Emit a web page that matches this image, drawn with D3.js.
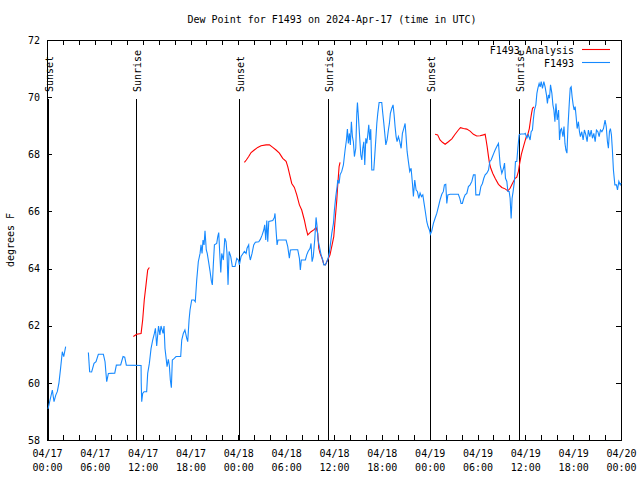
<!DOCTYPE html>
<html><head><meta charset="utf-8">
<script src="https://cdn.jsdelivr.net/npm/d3@7"></script>
<style>body{margin:0;background:#fff}svg{display:block}text{font-family:"DejaVu Sans Mono",monospace;font-size:10px;fill:#000}</style>
</head><body>
<svg id="c" width="640" height="480"></svg>
<script>
const title = "Dew Point for F1493 on 2024-Apr-17 (time in UTC)";
const yLabel = "degrees F";
const yTicks = [58, 60, 62, 64, 66, 68, 70, 72];
const xTickHours = [0, 6, 12, 18, 24, 30, 36, 42, 48, 54, 60, 66, 72];
const xTickDates = ["04/17","04/17","04/17","04/17","04/18","04/18","04/18","04/18","04/19","04/19","04/19","04/19","04/20"];
const xTickTimes = ["00:00","06:00","12:00","18:00","00:00","06:00","12:00","18:00","00:00","06:00","12:00","18:00","00:00"];
const sunHours = [0.12, 11.2, 24.1, 35.2, 48.1, 59.25];
const sunLabels = ["Sunset","Sunrise","Sunset","Sunrise","Sunset","Sunrise"];
const seriesNames = ["F1493 Analysis", "F1493"];

// Observed (blue) series: hours since 2024-04-17 00:00 UTC, value (null = gap)
const obsHours = [0.13,0.67,0.88,1.1,1.3,1.5,1.7,1.92,2.1,2.34,3.5,
5.19,5.35,5.6,5.9,6.15,6.44,7.07,7.28,7.4,7.49,7.7,8.5,8.7,9.24,9.54,9.75,9.95,11.8,11.82,11.88,12.0,12.17,12.5,12.63,12.84,
13.05,13.26,13.47,13.6,13.76,13.9,13.99,14.16,14.3,14.56,14.68,14.8,14.93,15.06,15.22,15.35,15.47,15.6,15.72,15.93,16.19,16.77,
16.9,17.1,17.3,17.53,17.65,17.82,17.94,18.15,18.44,18.6,18.78,18.98,19.2,19.32,19.45,19.57,19.7,19.82,19.98,20.1,20.29,20.45,
20.62,20.74,20.87,21.0,21.29,21.42,21.54,21.67,21.8,21.92,22.12,22.3,22.46,22.58,22.71,22.84,23.05,23.25,23.59,23.8,24.0,24.13,
24.34,24.55,24.76,24.97,25.09,25.3,25.38,25.5,25.72,25.93,26.14,26.56,26.76,26.98,27.19,27.31,27.44,27.57,27.69,27.82,28.32,
28.52,28.6,28.73,28.86,28.98,29.99,30.2,30.4,30.53,30.83,31.45,31.66,31.78,31.9,32.41,32.58,32.75,33.0,33.12,33.25,33.4,33.58,
33.75,33.88,34.0,34.17,34.38,34.59,34.72,34.92,35.09,35.26,35.42,35.72,35.93,36.05,36.22,36.39,36.47,36.64,36.76,36.97,37.18,
37.39,37.56,37.68,37.8,37.93,38.05,38.18,38.31,38.43,38.56,38.73,38.86,38.94,39.06,39.24,39.36,39.49,39.61,39.74,39.86,39.99,
40.11,40.24,40.36,40.49,40.61,40.74,40.99,41.12,41.24,41.37,41.49,41.66,41.99,42.12,42.25,42.37,42.5,42.66,42.82,42.95,43.07,
43.25,43.41,43.54,43.66,43.79,43.91,44.08,44.25,44.42,44.58,44.75,44.92,45.04,45.17,45.33,45.5,45.67,45.84,45.96,46.13,46.3,
46.46,46.64,46.8,46.97,47.14,47.3,47.46,47.64,47.8,47.97,48.09,48.25,48.47,48.68,48.89,49.1,49.3,49.52,49.72,49.85,50.02,50.15,
50.28,50.56,51.6,51.78,51.94,52.1,52.28,52.45,52.66,52.86,53.07,53.29,53.49,53.7,53.79,54.24,54.42,54.62,54.79,54.96,55.17,
55.38,55.55,55.71,55.88,56.05,56.21,56.42,56.63,56.84,57.05,57.26,57.39,57.51,57.68,57.81,57.97,58.09,58.22,58.34,58.47,58.63,
58.76,58.93,59.06,59.22,59.43,59.88,60.0,60.19,60.38,60.6,60.73,60.89,61.0,61.14,61.32,61.45,61.57,61.73,61.86,61.99,62.15,
62.32,62.48,62.65,62.77,62.9,63.03,63.16,63.33,63.46,63.58,63.71,63.84,64.0,64.17,64.29,64.42,64.54,64.72,64.85,64.97,65.09,
65.22,65.35,65.51,65.63,65.75,65.87,66.0,66.12,66.25,66.37,66.5,66.66,66.79,66.91,67.08,67.25,67.41,67.59,67.75,67.91,68.09,
68.26,68.42,68.59,68.76,68.92,69.1,69.26,69.42,69.6,69.8,70.0,70.15,70.3,70.42,70.55,70.67,70.8,70.92,71.05,71.23,71.43,71.56,
71.73,71.9,72.0];
const obsValues = [59.09,59.75,59.34,59.57,59.7,60.0,60.5,61.09,60.92,61.27,null,
61.06,60.39,60.38,60.68,60.74,61.0,61.0,60.74,60.33,60.04,60.33,60.34,60.62,60.63,60.92,60.9,60.62,60.61,60.0,59.34,59.63,59.69,59.69,60.33,60.68,
61.2,61.5,61.73,61.91,61.29,61.73,61.99,61.68,61.99,61.73,61.99,61.2,60.89,60.57,60.82,60.6,60.1,59.83,60.8,60.85,60.92,60.92,
61.5,61.73,61.85,61.56,61.44,62.2,62.55,62.9,62.9,62.84,63.6,64.24,64.53,64.83,64.53,65.0,64.83,65.32,64.65,64.53,64.2,63.91,
63.56,63.43,64.18,64.83,64.88,65.12,65.26,64.53,63.86,64.53,64.3,65.06,64.94,64.53,63.43,64.6,64.42,64.07,64.07,64.36,64.3,64.13,
64.42,64.51,64.6,64.53,64.71,64.83,64.48,64.3,64.53,64.83,64.92,64.94,65.02,65.17,65.35,65.53,65.0,65.68,64.94,65.65,65.68,
65.79,65.93,65.35,64.83,65.0,65.0,64.77,64.36,64.65,64.66,64.66,64.36,63.95,64.3,64.3,64.48,64.6,64.71,64.88,64.24,64.42,65.0,
65.79,65.47,65.0,64.77,64.48,64.3,64.13,64.13,64.24,64.36,64.56,65.23,65.58,66.05,66.52,66.87,67.1,66.98,67.28,67.4,67.63,
68.15,68.5,68.88,68.38,68.73,68.33,69.14,68.62,68.44,67.92,68.21,69.43,69.81,69.32,68.5,67.98,67.8,68.21,68.44,67.63,68.56,
68.38,68.68,69.03,68.5,68.88,67.45,67.45,67.98,68.5,69.08,69.43,69.81,69.81,69.43,69.08,68.73,68.33,68.5,68.85,69.08,69.43,
69.61,69.73,69.38,68.97,68.62,68.44,68.62,68.44,68.21,68.73,68.9,69.08,68.62,68.1,67.75,67.4,67.51,66.98,66.52,67.1,66.75,
66.7,66.46,66.64,66.52,66.58,66.28,65.99,65.64,65.47,65.35,65.2,65.3,65.58,65.76,65.93,66.17,66.4,66.6,66.7,66.93,66.95,66.28,
66.58,66.6,66.6,66.46,66.28,66.28,66.46,66.58,66.63,66.87,66.93,67.05,67.28,67.28,66.58,66.58,66.87,66.98,67.16,67.28,67.34,
67.45,67.75,67.8,67.92,68.04,68.15,68.27,68.38,67.63,67.33,67.51,67.69,67.16,67.05,66.7,66.7,66.46,65.75,66.46,66.7,67.05,
67.75,67.75,68.21,68.68,68.71,68.71,68.73,68.56,68.68,68.5,68.79,68.85,69.2,69.55,69.73,70.13,70.31,70.48,70.36,70.54,70.31,
70.54,70.36,70.08,69.78,70.08,69.96,70.43,70.13,69.73,69.55,69.14,69.78,69.2,69.55,68.5,68.85,68.9,68.62,68.97,68.38,68.15,
68.04,68.97,69.78,70.31,70.36,70.01,69.73,69.55,69.67,69.32,68.9,69.14,68.79,68.62,68.79,68.5,68.85,68.68,68.44,68.85,68.62,
68.85,68.56,68.73,68.44,68.85,68.79,68.62,68.85,68.79,68.9,69.2,68.97,68.44,68.21,68.79,68.9,68.68,68.15,67.45,66.93,66.93,66.75,
67.05,66.93,67.0];

// Analysis (red) series
const anaHours = [10.83,11.25,11.8,12.0,12.2,12.42,12.63,12.84,18.0,
24.76,25.0,25.3,25.6,26.0,26.43,26.85,27.48,27.9,28.32,28.73,29.15,29.57,29.99,30.2,30.4,30.7,31.03,31.33,31.66,31.95,32.28,32.5,
32.71,33.12,33.54,33.75,33.96,34.09,34.25,34.5,34.72,34.92,35.2,35.5,35.76,35.97,36.14,36.35,36.47,36.64,36.76,42.0,
48.68,49.0,49.3,49.6,49.94,50.35,50.78,51.19,51.6,51.86,52.24,52.66,53.07,53.49,53.9,54.33,54.74,54.96,55.08,55.21,55.38,55.5,
55.67,55.92,56.21,56.63,57.05,57.47,57.8,58.09,58.38,58.72,58.93,59.13,59.3,59.5,59.8,60.1,60.3,60.5,60.65,60.78,60.9,61.07];
const anaValues = [61.62,61.7,61.73,62.2,62.9,63.43,63.95,64.04,null,
67.72,67.8,67.92,68.06,68.15,68.24,68.3,68.33,68.33,68.24,68.15,68.04,67.86,67.75,67.57,67.33,66.98,66.84,66.58,66.23,66.05,65.7,65.41,
65.18,65.29,65.37,65.44,65.23,64.71,64.53,64.36,64.15,64.13,64.3,64.48,64.83,65.12,65.7,66.4,66.93,67.57,67.72,null,
68.7,68.68,68.5,68.42,68.35,68.44,68.54,68.7,68.85,68.93,68.9,68.88,68.81,68.7,68.64,68.65,68.68,68.7,68.5,68.27,67.92,67.69,
67.51,67.33,67.16,66.95,66.84,66.79,66.72,66.81,66.98,67.16,67.2,67.4,67.7,68.0,68.3,68.6,68.68,68.9,69.2,69.43,69.61,69.66];

const W = 640, H = 480;
const L = 47, R = 621, T = 40, B = 440;
const svg = d3.select("#c");
const t0 = Date.UTC(2024, 3, 17);
const hToDate = h => new Date(t0 + h * 3600000);
const x = d3.scaleUtc().domain([hToDate(0), hToDate(72)]).range([L, R]);
const y = d3.scaleLinear().domain([58, 72]).range([B, T]);

// frame
svg.append("rect").attr("x", L + 0.5).attr("y", T + 0.5).attr("width", R - L).attr("height", B - T)
  .attr("fill", "none").attr("stroke", "#000").attr("stroke-width", 1);

const minorHours = d3.range(0, 73, 2);
const tickLen = 5;
const xt = svg.append("g");
minorHours.forEach(h => {
  const px = Math.round(x(hToDate(h))) + 0.5;
  xt.append("line").attr("x1", px).attr("x2", px).attr("y1", B).attr("y2", B - tickLen).attr("stroke", "#000");
  xt.append("line").attr("x1", px).attr("x2", px).attr("y1", T).attr("y2", T + tickLen).attr("stroke", "#000");
});
const xAxis = d3.axisBottom(x).tickValues(xTickHours.map(hToDate)).tickSize(0).tickPadding(0).tickFormat(() => "");
const gx = svg.append("g").attr("transform", `translate(0,${B})`).call(xAxis);
gx.select(".domain").remove();
gx.selectAll(".tick").each(function(d, i) {
  const g = d3.select(this);
  g.select("text").remove();
  const tx = g.append("text").attr("text-anchor", "middle").style("font-family", "DejaVu Sans Mono").style("font-size", "10px");
  tx.append("tspan").attr("x", 0).attr("y", 17).text(xTickDates[i]);
  tx.append("tspan").attr("x", 0).attr("y", 31).text(xTickTimes[i]);
});

const yAxis = d3.axisLeft(y).tickValues(yTicks).tickSize(0).tickPadding(7);
const gy = svg.append("g").attr("transform", `translate(${L},0)`).call(yAxis);
gy.select(".domain").remove();
gy.selectAll("text").style("font-family", "DejaVu Sans Mono").style("font-size", "10px").attr("fill", "#000");
yTicks.forEach(v => {
  const py = Math.round(y(v)) + 0.5;
  svg.append("line").attr("x1", L).attr("x2", L + tickLen).attr("y1", py).attr("y2", py).attr("stroke", "#000");
  svg.append("line").attr("x1", R - tickLen).attr("x2", R).attr("y1", py).attr("y2", py).attr("stroke", "#000");
});

// sunrise/sunset
sunHours.forEach((h, i) => {
  const px = Math.round(x(hToDate(h))) + 0.5;
  svg.append("line").attr("x1", px).attr("x2", px).attr("y1", 99).attr("y2", B).attr("stroke", "#000").attr("stroke-width", 1);
  svg.append("text").attr("transform", `translate(${px + 4},92) rotate(-90)`).attr("text-anchor", "start").text(sunLabels[i]);
});

const line = d3.line().defined(d => d[1] !== null).x(d => x(hToDate(d[0]))).y(d => y(d[1]));
const anaData = anaHours.map((h, i) => [h, anaValues[i]]);
const obsData = obsHours.map((h, i) => [h, obsValues[i]]);
svg.append("path").datum(anaData).attr("d", line).attr("fill", "none").attr("stroke", "#ff0000").attr("stroke-width", 1.1);
svg.append("path").datum(obsData).attr("d", line).attr("fill", "none").attr("stroke", "#1589ff").attr("stroke-width", 1.1);

svg.append("text").attr("x", 332).attr("y", 23).attr("text-anchor", "middle").text(title);
svg.append("text").attr("transform", "translate(14,240) rotate(-90)").attr("text-anchor", "middle").text(yLabel);

const legColors = ["#ff0000", "#1589ff"];
seriesNames.forEach((n, i) => {
  const ly = 50 + i * 13;
  svg.append("text").attr("x", 574).attr("y", ly + 3.5).attr("text-anchor", "end").text(n);
  svg.append("line").attr("x1", 582).attr("x2", 610).attr("y1", ly - 0.5).attr("y2", ly - 0.5).attr("stroke", legColors[i]).attr("stroke-width", 1.1);
});
</script>
</body></html>
